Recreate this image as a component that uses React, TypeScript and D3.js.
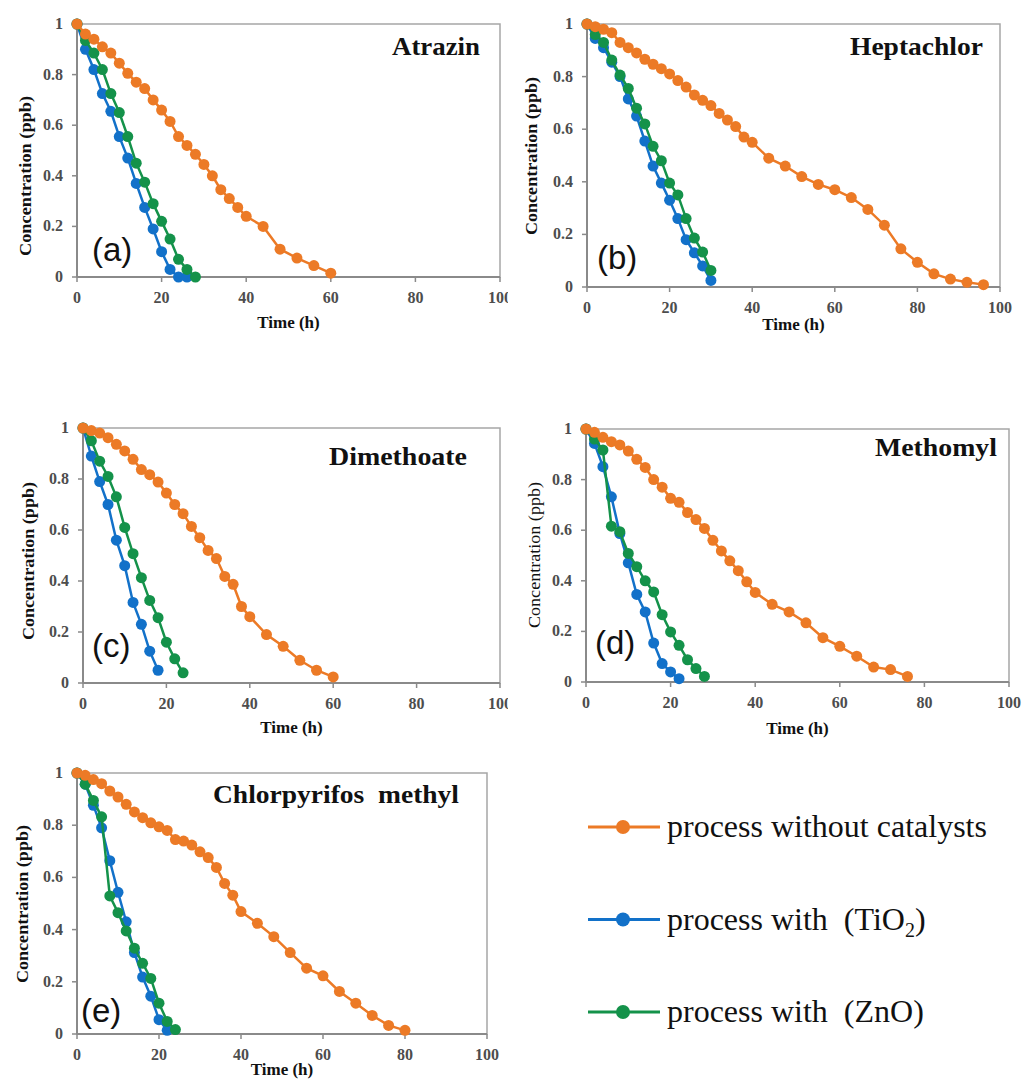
import React from "react";
import * as d3 from "d3";

// colours of the three processes
const ORANGE = "#ec7a26";
const BLUE = "#1271c9";
const GREEN = "#14924a";

const xTicks = [0, 20, 40, 60, 80, 100];
const yTicks = [0, 0.2, 0.4, 0.6, 0.8, 1];

// (a) Atrazin
const tAtrazinNone = [0, 2, 4, 6, 8, 10, 12, 14, 16, 18, 20, 22, 24, 26, 28, 30, 32, 34, 36, 38, 40, 44, 48, 52, 56, 60];
const cAtrazinNone = [1, 0.96, 0.94, 0.91, 0.885, 0.845, 0.805, 0.77, 0.745, 0.7, 0.66, 0.615, 0.555, 0.52, 0.485, 0.445, 0.4, 0.345, 0.31, 0.275, 0.24, 0.2, 0.11, 0.075, 0.045, 0.015];
const tAtrazinTiO2 = [0, 2, 4, 6, 8, 10, 12, 14, 16, 18, 20, 22, 24, 26];
const cAtrazinTiO2 = [1, 0.9, 0.82, 0.725, 0.655, 0.555, 0.47, 0.37, 0.275, 0.19, 0.1, 0.03, 0.0, 0.0];
const tAtrazinZnO = [0, 2, 4, 6, 8, 10, 12, 14, 16, 18, 20, 22, 24, 26, 28];
const cAtrazinZnO = [1, 0.935, 0.885, 0.82, 0.725, 0.65, 0.555, 0.45, 0.375, 0.29, 0.22, 0.15, 0.07, 0.03, 0.0];

// (b) Heptachlor
const tHeptaNone = [0, 2, 4, 6, 8, 10, 12, 14, 16, 18, 20, 22, 24, 26, 28, 30, 32, 34, 36, 38, 40, 44, 48, 52, 56, 60, 64, 68, 72, 76, 80, 84, 88, 92, 96];
const cHeptaNone = [1, 0.99, 0.98, 0.967, 0.93, 0.91, 0.89, 0.866, 0.847, 0.83, 0.81, 0.785, 0.76, 0.73, 0.71, 0.69, 0.66, 0.635, 0.61, 0.57, 0.55, 0.49, 0.46, 0.42, 0.39, 0.37, 0.34, 0.295, 0.235, 0.145, 0.094, 0.05, 0.03, 0.018, 0.009];
const tHeptaTiO2 = [0, 2, 4, 6, 8, 10, 12, 14, 16, 18, 20, 22, 24, 26, 28, 30];
const cHeptaTiO2 = [1, 0.945, 0.91, 0.855, 0.8, 0.715, 0.65, 0.555, 0.46, 0.395, 0.33, 0.26, 0.18, 0.13, 0.08, 0.025];
const tHeptaZnO = [0, 2, 4, 6, 8, 10, 12, 14, 16, 18, 20, 22, 24, 26, 28, 30];
const cHeptaZnO = [1, 0.96, 0.93, 0.863, 0.806, 0.755, 0.68, 0.62, 0.535, 0.48, 0.395, 0.35, 0.26, 0.186, 0.133, 0.063];

// (c) Dimethoate
const tDimeNone = [0, 2, 4, 6, 8, 10, 12, 14, 16, 18, 20, 22, 24, 26, 28, 30, 32, 34, 36, 38, 40, 44, 48, 52, 56, 60];
const cDimeNone = [1, 0.99, 0.98, 0.962, 0.936, 0.91, 0.877, 0.837, 0.817, 0.788, 0.745, 0.7, 0.664, 0.614, 0.57, 0.52, 0.488, 0.418, 0.387, 0.3, 0.26, 0.19, 0.144, 0.089, 0.05, 0.024];
const tDimeTiO2 = [0, 2, 4, 6, 8, 10, 12, 14, 16, 18];
const cDimeTiO2 = [1, 0.89, 0.79, 0.7, 0.56, 0.46, 0.316, 0.23, 0.125, 0.05];
const tDimeZnO = [0, 2, 4, 6, 8, 10, 12, 14, 16, 18, 20, 22, 24];
const cDimeZnO = [1, 0.95, 0.87, 0.81, 0.73, 0.61, 0.507, 0.413, 0.324, 0.256, 0.16, 0.095, 0.04];

// (d) Methomyl
const tMethNone = [0, 2, 4, 6, 8, 10, 12, 14, 16, 18, 20, 22, 24, 26, 28, 30, 32, 34, 36, 38, 40, 44, 48, 52, 56, 60, 64, 68, 72, 76];
const cMethNone = [1, 0.987, 0.967, 0.95, 0.937, 0.913, 0.88, 0.848, 0.8, 0.77, 0.726, 0.71, 0.67, 0.642, 0.607, 0.56, 0.518, 0.479, 0.44, 0.396, 0.354, 0.307, 0.277, 0.234, 0.175, 0.141, 0.102, 0.059, 0.049, 0.022];
const tMethTiO2 = [0, 2, 4, 6, 8, 10, 12, 14, 16, 18, 20, 22];
const cMethTiO2 = [1, 0.943, 0.851, 0.732, 0.587, 0.471, 0.346, 0.277, 0.154, 0.073, 0.04, 0.013];
const tMethZnO = [0, 2, 4, 6, 8, 10, 12, 14, 16, 18, 20, 22, 24, 26, 28];
const cMethZnO = [1, 0.96, 0.917, 0.616, 0.594, 0.508, 0.456, 0.4, 0.356, 0.266, 0.198, 0.145, 0.088, 0.053, 0.022];

// (e) Chlorpyrifos methyl
const tChlorNone = [0, 2, 4, 6, 8, 10, 12, 14, 16, 18, 20, 22, 24, 26, 28, 30, 32, 34, 36, 38, 40, 44, 48, 52, 56, 60, 64, 68, 72, 76, 80];
const cChlorNone = [1, 0.991, 0.975, 0.959, 0.931, 0.908, 0.88, 0.851, 0.829, 0.809, 0.794, 0.78, 0.745, 0.739, 0.724, 0.698, 0.676, 0.638, 0.577, 0.532, 0.469, 0.424, 0.373, 0.312, 0.252, 0.223, 0.163, 0.118, 0.071, 0.033, 0.014];
const tChlorTiO2 = [0, 2, 4, 6, 8, 10, 12, 14, 16, 18, 20, 22];
const cChlorTiO2 = [1, 0.957, 0.876, 0.79, 0.664, 0.543, 0.43, 0.312, 0.218, 0.145, 0.055, 0.014];
const tChlorZnO = [0, 2, 4, 6, 8, 10, 12, 14, 16, 18, 20, 22, 24];
const cChlorZnO = [1, 0.957, 0.895, 0.832, 0.529, 0.465, 0.395, 0.329, 0.271, 0.213, 0.118, 0.048, 0.017];

const zip = (t: number[], c: number[]) => t.map((v, i) => [v, c[i]] as [number, number]);

const SERIF = "'Liberation Serif', 'Times New Roman', serif";
const SANS = "'Liberation Sans', Arial, sans-serif";

type PanelProps = {
  id: string;
  left: number; right: number; top: number; bottom: number;
  title: string; titleX: number; titleY: number; titleLen: number;
  tag: string; tagX: number; tagY: number;
  tickY: number; xTitleY: number;
  yTitleX: number; yTitleY: number; yTitleLen: number; yBold: boolean;
  clipRight?: number;
  none: [number, number][]; tio2: [number, number][]; zno: [number, number][];
};

function Panel(p: PanelProps) {
  const x = d3.scaleLinear().domain([0, 100]).range([p.left, p.right]);
  const y = d3.scaleLinear().domain([0, 1]).range([p.bottom, p.top]);
  const line = d3.line<[number, number]>().x((d) => x(d[0])).y((d) => y(d[1]));
  const series = [
    { data: p.tio2, color: BLUE },
    { data: p.zno, color: GREEN },
    { data: p.none, color: ORANGE },
  ];
  const axisCol = "#8a8a8a";
  const textCol = "#4d4d4d";
  return (
    <g>
      {p.clipRight && (
        <clipPath id={`clip-${p.id}`}>
          <rect x={0} y={0} width={p.clipRight} height={1080} />
        </clipPath>
      )}
      {/* plot frame */}
      <rect x={p.left} y={p.top} width={p.right - p.left} height={p.bottom - p.top} fill="none" stroke="#a6a6a6" strokeWidth={1.5} />
      <line x1={p.left} x2={p.right} y1={p.bottom} y2={p.bottom} stroke={axisCol} strokeWidth={2} />
      <line x1={p.left} x2={p.left} y1={p.top} y2={p.bottom} stroke={axisCol} strokeWidth={2} />
      {yTicks.map((t) => (
        <g key={`y${t}`}>
          <line x1={p.left - 5} x2={p.left} y1={y(t)} y2={y(t)} stroke={axisCol} strokeWidth={1.5} />
          <text x={p.left - 14} y={y(t) + 5} textAnchor="end" fontFamily={SERIF} fontSize={16} fontWeight="bold" fill={textCol}>
            {d3.format("~g")(t)}
          </text>
        </g>
      ))}
      <g clipPath={p.clipRight ? `url(#clip-${p.id})` : undefined}>
        {xTicks.map((t) => (
          <g key={`x${t}`}>
            <line x1={x(t)} x2={x(t)} y1={p.bottom} y2={p.bottom + 5} stroke={axisCol} strokeWidth={1.5} />
            <text x={x(t)} y={p.tickY} textAnchor="middle" fontFamily={SERIF} fontSize={16} fontWeight="bold" fill={textCol}>
              {t}
            </text>
          </g>
        ))}
      </g>
      <text x={(p.left + p.right) / 2} y={p.xTitleY} textAnchor="middle" fontFamily={SERIF} fontSize={17} fontWeight="bold" fill="#111">
        Time (h)
      </text>
      <text
        transform={`translate(${p.yTitleX},${p.yTitleY}) rotate(-90)`}
        textAnchor="middle"
        fontFamily={SERIF}
        fontSize={16}
        fontWeight={p.yBold ? "bold" : "normal"}
        fill="#111"
        textLength={p.yTitleLen}
        lengthAdjust="spacingAndGlyphs"
      >
        Concentration (ppb)
      </text>
      {series.map((s, i) => (
        <g key={i}>
          <path d={line(s.data) || ""} fill="none" stroke={s.color} strokeWidth={2.5} />
          {s.data.map((d, j) => (
            <circle key={j} cx={x(d[0])} cy={y(d[1])} r={5.5} fill={s.color} />
          ))}
        </g>
      ))}
      <text x={p.titleX} y={p.titleY} textAnchor="end" fontFamily={SERIF} fontSize={25} fontWeight="bold" fill="#111"
        textLength={p.titleLen} lengthAdjust="spacingAndGlyphs" style={{ whiteSpace: "pre" }}>
        {p.title}
      </text>
      <text x={p.tagX} y={p.tagY} fontFamily={SANS} fontSize={33} fill="#111">
        {p.tag}
      </text>
    </g>
  );
}

const legendItems = [
  { label: "process without catalysts", sub: "", tail: "", color: ORANGE },
  { label: "process with  (TiO", sub: "2", tail: ")", color: BLUE },
  { label: "process with  (ZnO)", sub: "", tail: "", color: GREEN },
];

export default function App() {
  const legendY = d3.scalePoint<number>().domain([0, 1, 2]).range([827, 1012]);
  return (
    <svg width={1024} height={1080} style={{ position: "absolute", left: 0, top: 0, background: "#fff" }}>
      <rect x={0} y={0} width={1024} height={1080} fill="#fff" />
      <Panel id="a" left={77} right={500} top={24} bottom={277}
        title="Atrazin" titleX={480} titleY={55} titleLen={88}
        tag="(a)" tagX={92} tagY={261} tickY={303} xTitleY={328}
        yTitleX={31} yTitleY={176} yTitleLen={160} yBold={true} clipRight={508}
        none={zip(tAtrazinNone, cAtrazinNone)} tio2={zip(tAtrazinTiO2, cAtrazinTiO2)} zno={zip(tAtrazinZnO, cAtrazinZnO)} />
      <Panel id="b" left={587} right={1000} top={24} bottom={287}
        title="Heptachlor" titleX={983} titleY={55} titleLen={133}
        tag="(b)" tagX={597} tagY={269} tickY={313} xTitleY={330}
        yTitleX={537} yTitleY={156} yTitleLen={158} yBold={true}
        none={zip(tHeptaNone, cHeptaNone)} tio2={zip(tHeptaTiO2, cHeptaTiO2)} zno={zip(tHeptaZnO, cHeptaZnO)} />
      <Panel id="c" left={83} right={500} top={428} bottom={683}
        title="Dimethoate" titleX={467} titleY={465} titleLen={138}
        tag="(c)" tagX={92} tagY={657} tickY={709} xTitleY={733}
        yTitleX={34} yTitleY={561} yTitleLen={158} yBold={true} clipRight={508}
        none={zip(tDimeNone, cDimeNone)} tio2={zip(tDimeTiO2, cDimeTiO2)} zno={zip(tDimeZnO, cDimeZnO)} />
      <Panel id="d" left={586} right={1009} top={429} bottom={682}
        title="Methomyl" titleX={997} titleY={456} titleLen={122}
        tag="(d)" tagX={595} tagY={654} tickY={708} xTitleY={734}
        yTitleX={540} yTitleY={555} yTitleLen={146} yBold={false}
        none={zip(tMethNone, cMethNone)} tio2={zip(tMethTiO2, cMethTiO2)} zno={zip(tMethZnO, cMethZnO)} />
      <Panel id="e" left={77} right={487} top={773} bottom={1034}
        title="Chlorpyrifos  methyl" titleX={459} titleY={803} titleLen={246}
        tag="(e)" tagX={81} tagY={1022} tickY={1060} xTitleY={1075}
        yTitleX={28} yTitleY={904} yTitleLen={158} yBold={true}
        none={zip(tChlorNone, cChlorNone)} tio2={zip(tChlorTiO2, cChlorTiO2)} zno={zip(tChlorZnO, cChlorZnO)} />
      {/* legend */}
      {legendItems.map((it, i) => {
        const ly = legendY(i) as number;
        return (
          <g key={i}>
            <line x1={588} x2={660} y1={ly} y2={ly} stroke={it.color} strokeWidth={3} />
            <circle cx={623} cy={ly} r={7} fill={it.color} />
            <text x={667} y={ly + 10} fontFamily={SERIF} fontSize={32} fill="#111" style={{ whiteSpace: "pre" }}>
              {it.label}
              {it.sub && (
                <tspan fontSize={20} dy={7}>{it.sub}</tspan>
              )}
              {it.tail && <tspan dy={-7}>{it.tail}</tspan>}
            </text>
          </g>
        );
      })}
    </svg>
  );
}
